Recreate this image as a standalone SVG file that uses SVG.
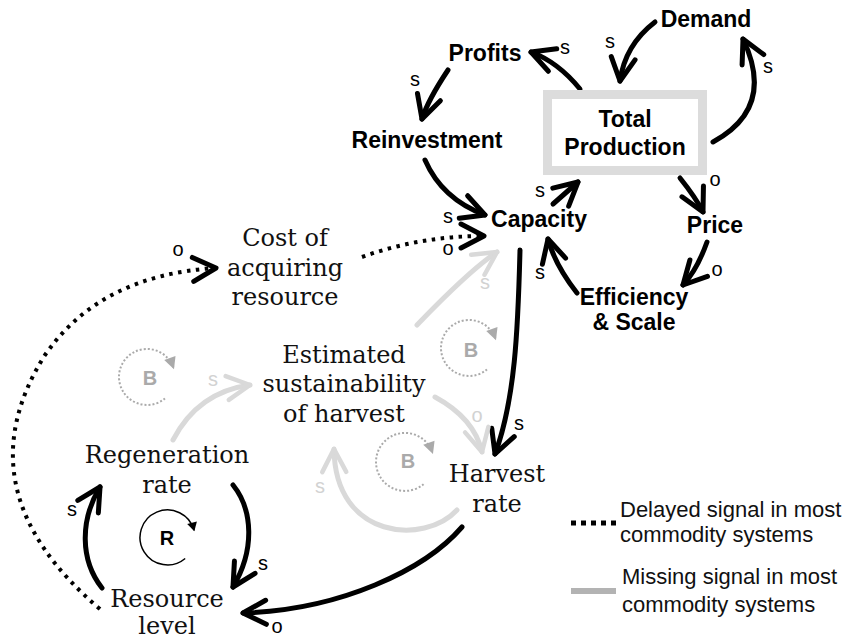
<svg xmlns="http://www.w3.org/2000/svg" width="853" height="639" viewBox="0 0 853 639">
<style>
.b{font-family:"Liberation Sans",Arial,sans-serif;font-weight:bold;font-size:23px;fill:#000;text-anchor:middle}
.sf{font-family:"DejaVu Serif",serif;font-size:24px;fill:#111;text-anchor:middle}
.lb{font-family:"Liberation Sans",Arial,sans-serif;font-size:20px;fill:#000;text-anchor:middle}
.lbg{font-family:"Liberation Sans",Arial,sans-serif;font-size:20px;fill:#d2d2d2;text-anchor:middle}
.lg{font-family:"Liberation Sans",Arial,sans-serif;font-size:22px;fill:#111}
.loopL{font-family:"Liberation Sans",Arial,sans-serif;font-weight:bold;font-size:20px;text-anchor:middle}
.c{fill:none;stroke:#000;stroke-width:5;stroke-linecap:round;marker-end:url(#ah)}
.g{fill:none;stroke:#d9d9d9;stroke-width:5;stroke-linecap:round;marker-end:url(#ahg)}
.d{fill:none;stroke:#000;stroke-width:4;stroke-dasharray:3.5 5.5;marker-end:url(#ah)}
.bl{fill:none;stroke:#aaa;stroke-width:2;stroke-dasharray:2 2;marker-end:url(#lbm)}
.rl{fill:none;stroke:#000;stroke-width:1.5;marker-end:url(#lrm)}
</style>
<defs>
<marker id="ah" markerUnits="userSpaceOnUse" orient="auto" overflow="visible" markerWidth="1" markerHeight="1">
<path d="M-23,-12 L0,0 L-23,12" fill="none" stroke="#000" stroke-width="5" stroke-linecap="round" stroke-linejoin="round"/>
</marker>
<marker id="ahg" markerUnits="userSpaceOnUse" orient="auto" overflow="visible" markerWidth="1" markerHeight="1">
<path d="M-23,-12 L0,0 L-23,12" fill="none" stroke="#d9d9d9" stroke-width="4.5" stroke-linecap="round" stroke-linejoin="round"/>
</marker>
<marker id="lbm" markerUnits="userSpaceOnUse" orient="auto" overflow="visible" markerWidth="1" markerHeight="1">
<path d="M-10,-6 L2,0 L-10,6 z" fill="#aaa"/>
</marker>
<marker id="lrm" markerUnits="userSpaceOnUse" orient="auto" overflow="visible" markerWidth="1" markerHeight="1">
<path d="M-8,-5 L1,0 L-8,5 z" fill="#000"/>
</marker>
</defs>
<rect width="853" height="639" fill="#fff"/>

<g id="connectors">
<path class="c" d="M580,89 Q558,62 531,52"/>
<path class="c" d="M448,70 Q428,100 422,119"/>
<path class="c" d="M425,160 Q442,199 485,215"/>
<path class="d" d="M362,257 Q420,236 484,236"/>
<path class="c" d="M553,204 L578,182"/>
<path class="c" d="M655,22 Q625,45 620,81"/>
<path class="c" d="M713,142 Q776,108 743,39"/>
<path class="c" d="M680,178 Q696,198 703,212"/>
<path class="c" d="M707,242 Q697,270 683,285"/>
<path class="c" d="M577,293 Q555,265 548,239"/>
<path class="c" d="M520,250 C518,330 515,400 495,454"/>
<path class="c" d="M462,527 C425,570 340,610 243,613"/>
<path class="c" d="M233,485 C253,510 255,550 233,587"/>
<path class="c" d="M102,588 C80,560 80,520 100,487"/>
<path class="d" d="M100,609 Q-40,490 45,355 Q100,275 216,268"/>
<path class="g" d="M417,325 Q470,270 497,252"/>
<path class="g" d="M173,440 Q198,392 250,385"/>
<path class="g" d="M435,397 Q474,418 482,452"/>
<path class="g" d="M457,510 C425,545 335,540 334,449"/>
</g>

<g id="link-labels">
<text class="lb" x="565" y="54">s</text>
<text class="lb" x="415" y="86">s</text>
<text class="lb" x="448" y="223">s</text>
<text class="lb" x="448" y="255">o</text>
<text class="lb" x="540" y="197">s</text>
<text class="lb" x="540" y="279">s</text>
<text class="lb" x="610" y="48">s</text>
<text class="lb" x="768" y="73">s</text>
<text class="lb" x="715" y="186">o</text>
<text class="lb" x="717" y="276">o</text>
<text class="lb" x="519" y="430">s</text>
<text class="lb" x="277" y="633">o</text>
<text class="lb" x="263" y="570">s</text>
<text class="lb" x="72" y="516">s</text>
<text class="lb" x="178" y="256">o</text>
<text class="lbg" x="485" y="289">s</text>
<text class="lbg" x="477" y="422">o</text>
<text class="lbg" x="320" y="493">s</text>
<text class="lbg" x="213" y="386">s</text>
</g>

<g id="loop-B1">
<path class="bl" d="M165,398.4 A28,28 0 1 1 173.3,367.4"/>
<text class="loopL" x="150" y="385" fill="#aaa">B</text>
</g>
<g id="loop-B2">
<path class="bl" d="M487,369.4 A28,28 0 1 1 495.3,338.4"/>
<text class="loopL" x="471" y="357" fill="#aaa">B</text>
</g>
<g id="loop-B3">
<path class="bl" d="M423.6,484.2 A29,29 0 1 1 432.3,452.1"/>
<text class="loopL" x="408" y="468" fill="#aaa">B</text>
</g>
<g id="loop-R">
<path class="rl" d="M185.2,558.5 A27.5,27.5 0 1 1 194.1,530.4"/>
<text class="loopL" x="167" y="545" fill="#000">R</text>
</g>

<g id="node-total-production">
<rect x="547.5" y="94.5" width="155" height="76" fill="none" stroke="#dcdcdc" stroke-width="9"/>
<text class="b" x="625" y="127">Total</text>
<text class="b" x="625" y="155">Production</text>
</g>
<g id="node-profits"><text class="b" x="485" y="61">Profits</text></g>
<g id="node-demand"><text class="b" x="706" y="27">Demand</text></g>
<g id="node-reinvestment"><text class="b" x="427" y="148">Reinvestment</text></g>
<g id="node-capacity"><text class="b" x="539" y="227">Capacity</text></g>
<g id="node-price"><text class="b" x="715" y="233">Price</text></g>
<g id="node-efficiency"><text class="b" x="634" y="305">Efficiency</text><text class="b" x="634" y="330">&amp; Scale</text></g>
<g id="node-cost"><text class="sf" x="285" y="246">Cost of</text><text class="sf" x="285" y="276">acquiring</text><text class="sf" x="285" y="305">resource</text></g>
<g id="node-estimated"><text class="sf" x="344" y="363">Estimated</text><text class="sf" x="344" y="392">sustainability</text><text class="sf" x="344" y="422">of harvest</text></g>
<g id="node-regeneration"><text class="sf" x="167" y="463">Regeneration</text><text class="sf" x="167" y="493">rate</text></g>
<g id="node-resource"><text class="sf" x="167" y="607">Resource</text><text class="sf" x="167" y="634">level</text></g>
<g id="node-harvest"><text class="sf" x="497" y="482">Harvest</text><text class="sf" x="497" y="512">rate</text></g>

<g id="legend">
<line x1="571" y1="523" x2="616" y2="523" stroke="#000" stroke-width="5" stroke-dasharray="5 5"/>
<text class="lg" x="620" y="517">Delayed signal in most</text>
<text class="lg" x="620" y="542">commodity systems</text>
<line x1="571" y1="591" x2="616" y2="591" stroke="#b3b3b3" stroke-width="6"/>
<text class="lg" x="622" y="584">Missing signal in most</text>
<text class="lg" x="622" y="612">commodity systems</text>
</g>
</svg>
